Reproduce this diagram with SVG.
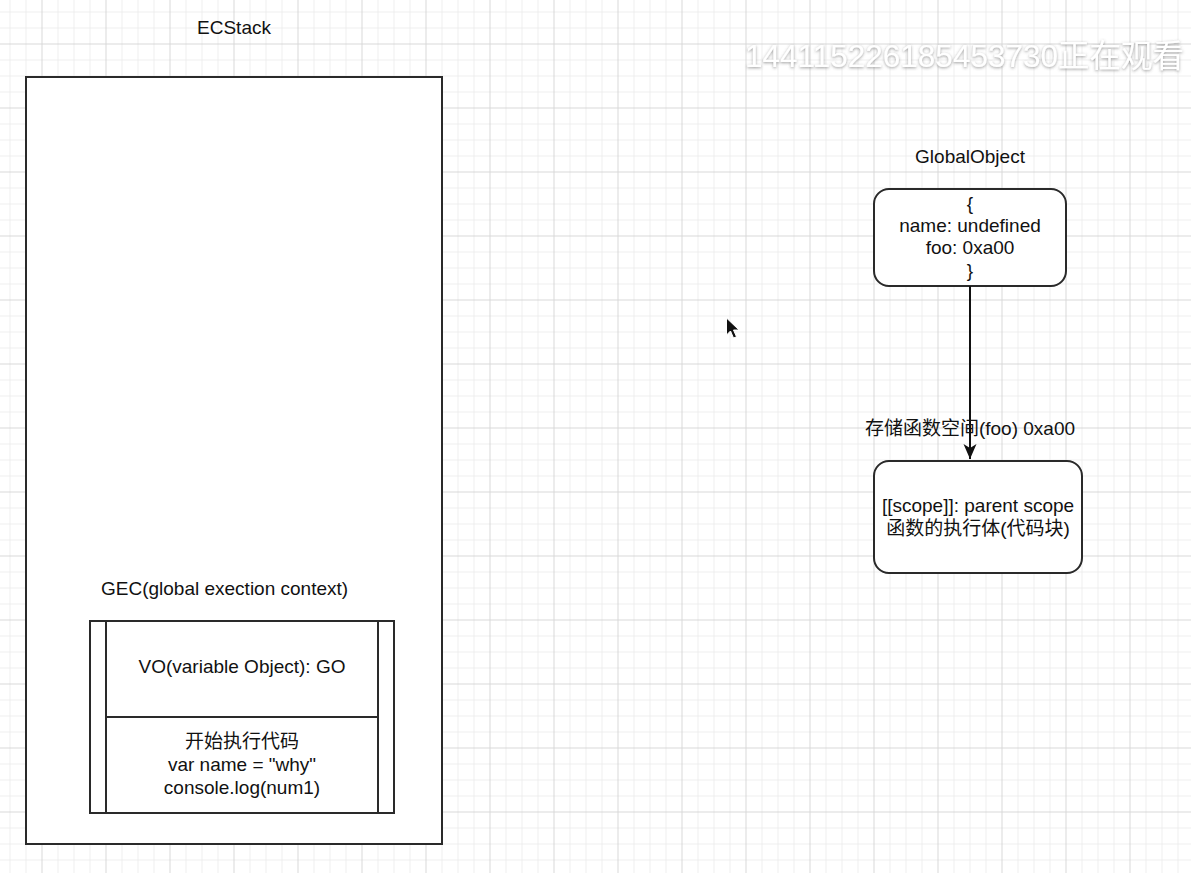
<svg xmlns="http://www.w3.org/2000/svg" width="1191" height="873" viewBox="0 0 1191 873">
<defs>
<pattern id="grid" x="41.5" y="43.5" width="64" height="64" patternUnits="userSpaceOnUse">
<path d="M16.5 0V64M32.5 0V64M48.5 0V64M0 16.5H64M0 32.5H64M0 48.5H64" stroke="#eeeeee" stroke-width="1" fill="none"/>
<path d="M0.5 0V64M0 0.5H64" stroke="#d8d8d8" stroke-width="1" fill="none"/>
</pattern>
<marker id="arrow" markerWidth="16" markerHeight="14" refX="15" refY="7" orient="auto" markerUnits="userSpaceOnUse">
<path d="M0 0.5 L15 7 L0 13.5 L4 7 Z" fill="#111"/>
</marker>
<filter id="shadow" x="-5%" y="-30%" width="110%" height="160%">
<feDropShadow dx="0" dy="1" stdDeviation="1.5" flood-color="#555" flood-opacity="0.6"/>
</filter>
</defs>
<style>
.t{font-family:"Liberation Sans","Noto Sans CJK SC",Arial,sans-serif;font-size:19px;fill:#111;}
.c{text-anchor:middle;}
.box{fill:#fff;stroke:#2a2a2a;stroke-width:2;}
</style>
<rect x="0" y="0" width="1191" height="873" fill="#fff"/>
<rect x="0" y="0" width="1191" height="873" fill="url(#grid)"/>

<g id="ecstack">
<text class="t c" x="234" y="34">ECStack</text>
<rect class="box" x="26" y="77" width="416" height="767"/>
</g>

<g id="gec">
<text class="t" x="101" y="595">GEC(global exection context)</text>
<rect class="box" x="90" y="621" width="304" height="192"/>
<line x1="106" y1="621" x2="106" y2="813" stroke="#2a2a2a" stroke-width="2"/>
<line x1="378" y1="621" x2="378" y2="813" stroke="#2a2a2a" stroke-width="2"/>
<line x1="106" y1="717" x2="378" y2="717" stroke="#2a2a2a" stroke-width="2"/>
<text class="t c" x="242" y="673">VO(variable Object): GO</text>
<text class="t c" x="242" y="748">开始执行代码</text>
<text class="t c" x="242" y="771">var name = "why"</text>
<text class="t c" x="242" y="794">console.log(num1)</text>
</g>

<g id="globalobject">
<text class="t c" x="970" y="163">GlobalObject</text>
<rect class="box" x="874" y="189" width="192" height="97" rx="15" ry="15"/>
<text class="t c" x="970" y="210">{</text>
<text class="t c" x="970" y="232">name: undefined</text>
<text class="t c" x="970" y="254">foo: 0xa00</text>
<text class="t c" x="970" y="277">}</text>
</g>

<g id="funcobj">
<rect class="box" x="874" y="461" width="208" height="112" rx="15" ry="15"/>
<text class="t c" x="978" y="512">[[scope]]: parent scope</text>
<text class="t c" x="978" y="535">函数的执行体(代码块)</text>
</g>

<g id="connectors">
<line x1="970" y1="286" x2="970" y2="459" stroke="#111" stroke-width="2" marker-end="url(#arrow)"/>
<text class="t c" x="970" y="435">存储函数空间(foo) 0xa00</text>
</g>

<g id="watermark">
<text x="745" y="67" filter="url(#shadow)" style="font-family:'Liberation Sans','Noto Sans CJK SC',sans-serif;font-size:31.5px;fill:#fff;">144115226185453730正在观看</text>
</g>

<g id="cursor">
<path d="M726.5 318 L726.5 335 L730.5 331 L733.5 338 L736.5 336.8 L733.5 330 L739 330 Z" fill="#111" stroke="#fff" stroke-width="1"/>
</g>
</svg>
